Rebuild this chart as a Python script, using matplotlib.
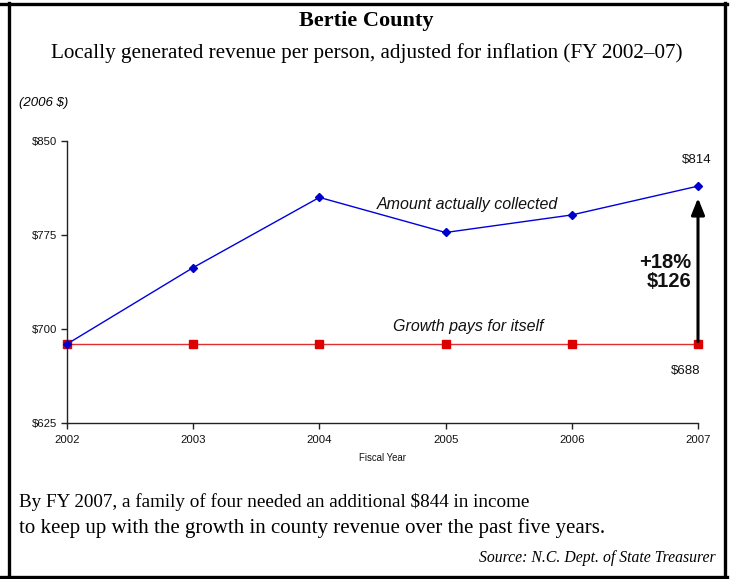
import matplotlib
matplotlib.use("Agg")
import matplotlib.pyplot as plt
from matplotlib.lines import Line2D

years = [2002, 2003, 2004, 2005, 2006, 2007]
collected = [688, 749, 805, 777, 791, 814]
baseline = [688, 688, 688, 688, 688, 688]
yticks = [625, 700, 775, 850]
ytick_labels = ["$625", "$700", "$775", "$850"]

W, H = 733, 579
fig = plt.figure(figsize=(W / 100, H / 100), dpi=100)
fig.patch.set_facecolor("white")

def fx(px):
    return px / W

def fy(py):
    return 1 - py / H

sans = ["Liberation Sans", "DejaVu Sans"]
serif = ["Liberation Serif", "DejaVu Serif"]

ax = fig.add_axes([fx(67), fy(423), fx(698) - fx(67), fy(141) - fy(423)])
ax.plot(years, baseline, color="#e03030", lw=1.0, marker="s", markersize=5.5,
        markerfacecolor="#dd0000", markeredgecolor="#dd0000", zorder=3, clip_on=False)
ax.plot(years, collected, color="#0000dd", lw=1.0, marker="D", markersize=4,
        markerfacecolor="#0000cc", markeredgecolor="#0000cc", zorder=4, clip_on=False)

ax.set_xlim(2002, 2007)
ax.set_ylim(625, 850)
ax.set_yticks(yticks)
ax.set_yticklabels(ytick_labels)
ax.set_xticks(years)
ax.set_xticklabels([str(y) for y in years])
for s in ["top", "right"]:
    ax.spines[s].set_visible(False)
for s in ["left", "bottom"]:
    ax.spines[s].set_color("#222222")
    ax.spines[s].set_linewidth(1.0)
ax.tick_params(axis="both", direction="out", length=4, width=1, color="#222222",
               labelsize=8.2, labelcolor="#111111")
ax.tick_params(axis="x", pad=4.5)
ax.tick_params(axis="y", pad=3)
for lab in ax.get_xticklabels() + ax.get_yticklabels():
    lab.set_family(sans)
ax.set_xlabel("Fiscal Year", fontsize=6.9, family=sans, labelpad=6, color="#111111")
ax.patch.set_alpha(0)

# annotations
ax.text(2005.17, 799, "Amount actually collected", style="italic", fontsize=11.5,
        family=sans, ha="center", va="center", color="#111111")
ax.text(2005.18, 701.6, "Growth pays for itself", style="italic", fontsize=11.5,
        family=sans, ha="center", va="center", color="#111111")
ax.text(2006.99, 835, "$%d" % collected[-1], fontsize=9.5, family=sans,
        ha="center", va="center", color="#111111")
ax.text(2006.90, 666.5, "$%d" % baseline[-1], fontsize=9.5, family=sans,
        ha="center", va="center", color="#111111")
diff = collected[-1] - baseline[-1]
pct = round(100 * diff / baseline[-1])
ax.text(2006.95, 745.5, "+%d%%\n$%d" % (pct, diff), fontsize=14.5, fontweight="bold",
        family=sans, ha="right", va="center", linespacing=1.05, color="#111111")
ax.annotate("", xy=(years[-1], 804.5), xytext=(years[-1], 690),
            arrowprops=dict(arrowstyle="-|>,head_length=1.0,head_width=0.4",
                            color="black", lw=2.2, shrinkA=0, shrinkB=0))

fig.text(0.5, fy(21), "Bertie County", fontsize=16, fontweight="bold", family=serif,
         ha="center", va="center")
fig.text(0.5, fy(53), "Locally generated revenue per person, adjusted for inflation (FY 2002\u201307)",
         fontsize=15.2, family=serif, ha="center", va="center")
fig.text(fx(19), fy(103), "(2006 $)", fontsize=9.5, style="italic",
         family=sans, ha="left", va="center")
fig.text(fx(19), fy(502), "By FY 2007, a family of four needed an additional $844 in income",
         fontsize=13.8, family=serif, ha="left", va="center")
fig.text(fx(19), fy(528), "to keep up with the growth in county revenue over the past five years.",
         fontsize=15.0, family=serif, ha="left", va="center")
fig.text(fx(716), fy(558), "Source: N.C. Dept. of State Treasurer", fontsize=11.3,
         style="italic", family=serif, ha="right", va="center")

# frame
lw = 2.4
fig.add_artist(Line2D([fx(0), fx(727)], [fy(4), fy(4)], color="black", lw=lw, transform=fig.transFigure))
fig.add_artist(Line2D([fx(0), fx(727)], [fy(577), fy(577)], color="black", lw=lw, transform=fig.transFigure))
fig.add_artist(Line2D([fx(9), fx(9)], [fy(3), fy(579)], color="black", lw=lw, transform=fig.transFigure))
fig.add_artist(Line2D([fx(725), fx(725)], [fy(3), fy(578)], color="black", lw=lw, transform=fig.transFigure))

fig.savefig("out.png", dpi=100)
